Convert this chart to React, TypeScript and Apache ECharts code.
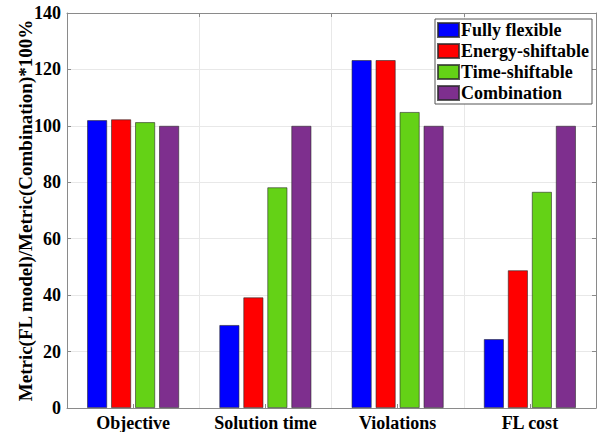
import React, { useEffect, useRef } from "react";
import * as echarts from "echarts";

const categories = ["Objective", "Solution time", "Violations", "FL cost"];
const seriesNames = ["Fully flexible", "Energy-shiftable", "Time-shiftable", "Combination"];
const fullyFlexible = [102.0, 29.4, 123.3, 24.4];
const energyShiftable = [102.3, 39.2, 123.3, 48.8];
const timeShiftable = [101.3, 78.2, 104.9, 76.6];
const combination = [100, 100, 100, 100];
const colors = ["#0000FF", "#FF0000", "#64D216", "#7E2F8E"];
const yTicks = [0, 20, 40, 60, 80, 100, 120, 140];

const FONT = "Liberation Serif";

export default function App() {
  const ref = useRef<HTMLDivElement>(null);
  useEffect(() => {
    const chart = echarts.init(ref.current!, null, { renderer: "svg" });
    const values = [fullyFlexible, energyShiftable, timeShiftable, combination];
    const axisColor = "#8a8a8a";
    const gridColor = "#e8e8e8";
    chart.setOption({
      animation: false,
      backgroundColor: "#fff",
      textStyle: { fontFamily: FONT },
      grid: { left: 67, right: 7, top: 13, bottom: 24, containLabel: false },
      legend: {
        orient: "vertical",
        right: 11,
        top: 19,
        itemWidth: 21,
        itemHeight: 14,
        itemGap: 3,
        padding: [2, 3, 2, 2],
        borderColor: "#555",
        borderWidth: 1,
        backgroundColor: "#fff",
        icon: "rect",
        textStyle: { fontFamily: FONT, fontWeight: "bold", fontSize: 18, lineHeight: 17, color: "#000", padding: [0, 0, 0, -3] },
        data: seriesNames,
      },
      xAxis: [
        {
          type: "category",
          data: categories,
          position: "bottom",
          boundaryGap: true,
          axisLine: { show: true, onZero: false, lineStyle: { color: axisColor } },
          axisTick: { show: true, inside: true, alignWithLabel: true, length: 4, lineStyle: { color: axisColor } },
          axisLabel: { interval: 0, fontFamily: FONT, fontWeight: "bold", fontSize: 18, color: "#000", margin: 6 },
          splitLine: { show: false },
        },
        {
          type: "value",
          position: "top",
          min: -0.5,
          max: 3.5,
          interval: 1,
          axisLine: { show: true, onZero: false, lineStyle: { color: axisColor } },
          axisTick: { show: true, inside: true, length: 4, lineStyle: { color: axisColor } },
          axisLabel: { show: false },
          splitLine: { show: true, lineStyle: { color: gridColor } },
        },
      ],
      yAxis: [
        {
          type: "value",
          min: 0,
          max: 140,
          interval: 20,
          position: "left",
          name: "Metric(FL model)/Metric(Combination)*100%",
          nameLocation: "middle",
          nameGap: 32,
          nameMoveOverlap: false,
          nameTextStyle: { fontFamily: FONT, fontWeight: "bold", fontSize: 19, color: "#000" },
          axisLine: { show: true, onZero: false, lineStyle: { color: axisColor } },
          axisTick: { show: true, inside: true, length: 4, lineStyle: { color: axisColor } },
          axisLabel: {
            fontFamily: FONT, fontWeight: "bold", fontSize: 18, color: "#000", margin: 6,
            formatter: (v: number) => (yTicks.includes(v) ? String(v) : ""),
          },
          splitLine: { show: true, lineStyle: { color: gridColor } },
        },
        {
          type: "value",
          min: 0,
          max: 140,
          interval: 20,
          position: "right",
          axisLine: { show: true, onZero: false, lineStyle: { color: axisColor } },
          axisTick: { show: true, inside: true, length: 4, lineStyle: { color: axisColor } },
          axisLabel: { show: false },
          splitLine: { show: false },
        },
      ],
      series: seriesNames.map((name, i) => ({
        name,
        type: "bar",
        xAxisIndex: 0,
        yAxisIndex: 0,
        data: values[i],
        barWidth: 20,
        barGap: "20%",
        itemStyle: { color: colors[i], borderColor: "rgba(40,40,40,0.75)", borderWidth: 0.8 },
      })),
    });
    return () => chart.dispose();
  }, []);
  return (
    <div
      ref={ref}
      style={{ position: "fixed", left: 0, top: 0, width: 603, height: 432 }}
    />
  );
}
